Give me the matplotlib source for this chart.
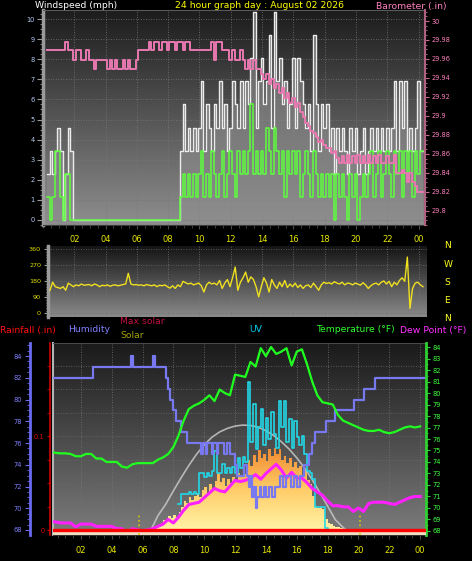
import matplotlib
matplotlib.use("Agg")
import matplotlib.pyplot as plt
import numpy as np
from matplotlib.colors import LinearSegmentedColormap
from matplotlib.ticker import MultipleLocator, FuncFormatter

# ---------------- data ----------------
hour_ticks = [2, 4, 6, 8, 10, 12, 14, 16, 18, 20, 22, 24]
hour_labels = ["02", "04", "06", "08", "10", "12", "14", "16", "18", "20", "22", "00"]

# wind + barometer: 10-minute samples, first one at 00:15
wind_start = 0.25
gust_mph = [
    2.3, 3.45, 2.3, 3.45, 4.6, 3.45, 0, 2.3, 4.6, 3.45, 0,
    0, 0, 0, 0, 0, 0, 0, 0, 0, 0,
    0, 0, 0, 0, 0, 0, 0, 0, 0, 0,
    0, 0, 0, 0, 0, 0, 0, 0, 0, 0,
    0, 0, 0, 0, 0, 0, 0, 0, 0, 0,
    3.45, 5.75, 3.45, 4.6, 3.45, 4.6, 3.45,
    4.6, 6.9, 3.45, 5.75, 4.6, 3.45,
    5.75, 4.6, 6.9, 4.6, 5.75, 3.45,
    4.6, 6.9, 5.75, 4.6, 6.9, 4.6,
    6.9, 5.75, 8.05, 10.35, 4.6, 6.9,
    8.05, 5.75, 6.9, 9.2, 4.6, 10.35,
    6.9, 8.05, 5.75, 6.9, 4.6, 5.75,
    8.05, 4.6, 8.05, 6.9, 5.75, 4.6,
    5.75, 3.45, 9.2, 5.75, 3.45, 5.75,
    4.6, 5.75, 3.45, 4.6, 2.3, 4.6,
    3.45, 4.6, 3.45, 2.3, 4.6, 3.45,
    4.6, 2.3, 3.45, 4.6, 2.3, 3.45,
    4.6, 3.45, 4.6, 3.45, 4.6, 3.45,
    4.6, 3.45, 4.6, 6.9, 3.45, 6.9,
    4.6, 6.9, 3.45, 4.6, 3.45, 4.6,
    6.9, 3.45,
]
speed_mph = [
    1.15, 0, 1.15, 3.45, 3.45, 1.15, 0, 2.3, 2.3, 0, 0,
    0, 0, 0, 0, 0, 0, 0, 0, 0, 0,
    0, 0, 0, 0, 0, 0, 0, 0, 0, 0,
    0, 0, 0, 0, 0, 0, 0, 0, 0, 0,
    0, 0, 0, 0, 0, 0, 0, 0, 0, 0,
    1.15, 2.3, 1.15, 2.3, 1.15, 2.3, 1.15,
    2.3, 3.45, 1.15, 2.3, 1.15, 3.45,
    2.3, 1.15, 2.3, 3.45, 1.15, 2.3,
    3.45, 2.3, 1.15, 3.45, 2.3, 3.45,
    2.3, 3.45, 5.75, 2.3, 3.45, 2.3,
    3.45, 2.3, 4.6, 3.45, 2.3, 4.6,
    3.45, 2.3, 3.45, 1.15, 3.45, 2.3,
    3.45, 2.3, 3.45, 1.15, 2.3, 3.45,
    2.3, 1.15, 3.45, 2.3, 1.15, 2.3,
    1.15, 2.3, 1.15, 2.3, 0, 2.3,
    1.15, 2.3, 1.15, 0, 2.3, 1.15,
    2.3, 0, 1.15, 2.3, 1.15, 2.3,
    3.45, 1.15, 2.3, 3.45, 1.15, 2.3,
    3.45, 2.3, 1.15, 3.45, 2.3, 3.45,
    1.15, 3.45, 2.3, 3.45, 1.15, 3.45,
    2.3, 3.45,
]
baro_in = [
    29.969, 29.969, 29.969, 29.969, 29.969, 29.969,
    29.969, 29.978, 29.969, 29.969, 29.959, 29.969,
    29.969, 29.959, 29.959, 29.969, 29.959, 29.959,
    29.949, 29.959, 29.959, 29.959, 29.959, 29.949,
    29.959, 29.949, 29.959, 29.949, 29.949, 29.959,
    29.949, 29.959, 29.949, 29.949, 29.959, 29.969,
    29.969, 29.969, 29.969, 29.978, 29.969, 29.978,
    29.978, 29.969, 29.978, 29.978, 29.969, 29.978,
    29.978, 29.969, 29.978, 29.978, 29.969, 29.978,
    29.978, 29.969, 29.969, 29.969, 29.969, 29.969,
    29.969, 29.969, 29.969, 29.978, 29.959, 29.978,
    29.978, 29.969, 29.969, 29.969, 29.959, 29.969,
    29.959, 29.959, 29.969, 29.959, 29.949, 29.959,
    29.949, 29.959, 29.949, 29.949, 29.944, 29.939,
    29.944, 29.934, 29.939, 29.929, 29.934, 29.924,
    29.929, 29.919, 29.924, 29.914, 29.919, 29.909,
    29.914, 29.904, 29.899, 29.893, 29.889, 29.884,
    29.882, 29.878, 29.872, 29.875, 29.869, 29.866,
    29.866, 29.861, 29.863, 29.856, 29.850, 29.858,
    29.850, 29.859, 29.850, 29.858, 29.850, 29.859,
    29.850, 29.858, 29.850, 29.859, 29.850, 29.858,
    29.850, 29.859, 29.850, 29.850, 29.858, 29.850,
    29.850, 29.859, 29.840, 29.840, 29.843, 29.840,
    29.830, 29.840, 29.830, 29.826, 29.820, 29.820,
]
baro_ticks = [29.8, 29.82, 29.84, 29.86, 29.88, 29.9, 29.92, 29.94, 29.96, 29.98, 30.0]

# wind direction: 10-minute samples, first one at 00:27
dir_start = 0.45
wind_dir = [
    130, 175, 150,
    145, 140, 150, 130, 170, 160,
    150, 160, 155, 165, 158, 160,
    162, 155, 165, 160, 150, 158,
    155, 160, 152, 158, 160, 155,
    158, 162, 165, 225, 165, 160,
    162, 158, 160, 155, 162, 158,
    155, 160, 150, 158, 155, 160,
    150, 142, 155, 140, 160, 150,
    180, 172, 165, 170, 160, 165,
    170, 155, 120, 160, 175, 165,
    170, 160, 185, 140, 170, 190,
    150, 200, 260, 130, 175, 200,
    232, 175, 205, 190, 150, 93,
    150, 200, 170, 120, 190, 160,
    140, 175, 150, 185, 145, 165,
    150, 170, 145, 160, 140, 155,
    160, 145, 170, 150, 130, 160,
    175, 168, 172, 165, 178, 170,
    165, 175, 160, 170, 168, 160,
    170, 165, 158, 172, 160, 140,
    155, 165, 170, 160, 175, 182,
    165, 180, 150, 175, 160, 185,
    200, 180, 316, 28, 140, 170,
    175, 160, 150,
]
dir_ticks = [0, 90, 180, 270, 360]
compass = ["N", "W", "S", "E", "N"]

# temperature and dew point: 20-minute samples from 00:00
temp_f = [
    74.9, 74.8, 74.75, 74.75, 74.7, 74.5,
    74.5, 74.7, 74.7, 74.3, 74.3, 74.0,
    74.0, 74.0, 73.6, 73.5, 73.8, 73.9,
    73.9, 73.9, 73.9, 74.2, 74.4, 74.7,
    75.3, 76.3, 77.6, 78.6, 78.9, 79.1,
    79.4, 79.8, 79.3, 80.3, 80.0, 79.8,
    81.6, 81.5, 81.4, 82.7, 82.3, 83.9,
    83.2, 84.0, 83.4, 83.6, 83.9, 82.4,
    83.6, 83.8, 82.5, 81.0, 79.8, 79.2,
    79.1, 79.0, 78.1, 77.6, 77.4, 77.2,
    77.0, 76.8, 76.7, 76.7, 76.8, 76.6,
    76.5, 76.6, 76.8, 77.0, 77.1, 77.0,
    77.1,
]
dew_f = [
    68.8, 68.8, 68.7, 68.7, 68.7, 68.35,
    68.6, 68.6, 68.6, 68.4, 68.4, 68.4,
    68.4, 68.2, 68.2, 67.8, 68.2, 68.1,
    68.0, 68.1, 68.2, 68.4, 68.6, 69.0,
    68.7, 69.2, 69.8, 70.3, 70.4, 70.5,
    70.9, 71.3, 71.7, 71.5, 71.4, 71.9,
    72.4, 72.3, 72.4, 72.6, 72.9, 72.5,
    73.0, 73.4, 73.8, 73.3, 72.6, 73.1,
    72.6, 72.6, 72.2, 71.7, 71.4, 71.1,
    70.6, 70.2, 70.2, 70.1, 70.1, 69.7,
    70.0, 69.7, 70.4, 70.5, 70.5, 70.5,
    70.4, 70.3, 70.5, 70.7, 70.9, 71.0,
    71.0,
]

# humidity steps (hour it changes, new value)
hum_hours = [0.2, 2.8, 5.25, 5.35, 6.7, 6.8, 7.5, 7.65, 7.8, 7.95, 8.2, 8.5, 8.9,
             9.8, 9.9, 10.1, 10.2, 10.5, 10.6, 10.8, 10.9, 11.3, 11.5, 11.7, 12.0,
             12.15, 12.6, 12.75, 12.9, 13.0, 13.1, 13.25, 13.35, 13.45, 13.6, 13.7,
             13.85, 14.0, 14.2, 14.4, 14.6, 14.9, 15.1, 15.3, 15.6, 15.8, 16.0, 16.2,
             16.5, 16.8, 17.0, 17.2, 17.9, 18.5, 19.7, 20.35, 21.1]
hum_pct = [82, 83, 84, 83, 84, 83, 82, 81, 80, 79, 78, 77, 76,
           75, 76, 75, 76, 75, 76, 75, 76, 75, 76, 75, 74,
           73, 74, 73, 72, 73, 71, 72, 70, 71, 72, 71,
           72, 71, 72, 71, 72, 73, 72, 73, 72, 73, 72, 73,
           74, 75, 76, 77, 78, 79, 80, 81, 82]

# solar radiation: 10-minute samples from 06:30 (W/m2)
solar_start = 6.5
solar_wm2 = [
    5, 15, 30,
    45, 70, 95, 110, 130, 115,
    140, 125, 165, 210, 260, 245,
    290, 270, 300, 330, 290, 350,
    380, 330, 400, 360, 430, 495,
    420, 450, 390, 445, 410, 465,
    440, 500, 470, 520, 490, 610,
    560, 650, 590, 690, 620, 660,
    600, 700, 640, 720, 660, 700,
    610, 640, 580, 620, 550, 590,
    540, 560, 480, 520, 440, 400,
    300, 220, 200, 210, 190, 110,
    75, 60, 45, 40, 38, 30,
    25, 15, 0,
]
max_solar_hours = [6.5, 7.0, 7.5, 8.0, 8.5, 9.0, 9.5, 10.0, 10.5, 11.0, 11.5, 12.0, 12.5, 13.0,
                   13.5, 14.0, 14.5, 15.0, 15.5, 16.0, 16.5, 17.0, 17.5, 18.0, 18.5, 19.0, 19.3]
max_solar_wm2 = [0, 135, 230, 345, 455, 560, 655, 735, 800, 845, 875, 895, 903, 900,
                 885, 855, 815, 762, 700, 625, 540, 440, 330, 215, 100, 35, 0]

# UV index: 10-minute samples from 08:20
uv_start = 8.33
uv_index = [
    1.8, 2.5, 2.5, 2.5, 2.6, 2.5,
    2.6, 2.5, 3.9, 3.9, 3.6, 3.9,
    3.7, 4.0, 5.4, 3.9, 3.9, 4.5,
    3.9, 4.2, 3.9, 4.3, 3.9, 4.9,
    4.2, 5.0, 4.6, 10.0, 6.0, 8.5,
    5.5, 7.0, 8.2, 5.8, 7.6, 6.2,
    8.0, 6.5, 5.6, 8.7, 7.0, 8.7,
    6.0, 7.5, 5.6, 7.4, 6.3, 5.8,
    6.4, 5.2, 4.0, 3.9, 3.5, 1.6,
    1.6, 1.6, 1.6, 0.2, 0,
]

rain_hours = [0.2, 24.3]
rain_in = [0.0, 0.0]
sun_marks = [5.75, 20.1]

# ---------------- figure ----------------
W, H = 472, 561
fig = plt.figure(figsize=(W / 100, H / 100), dpi=100, facecolor="black")
DOT = (0, (1, 2))


def add_axes_px(x0, y0, x1, y1):
    return fig.add_axes([x0 / W, 1 - y1 / H, (x1 - x0) / W, (y1 - y0) / H], facecolor="black")


def add_gradient(ax, top, bottom):
    cmap = LinearSegmentedColormap.from_list("bg", [bottom, top])
    ax.imshow(np.linspace(0, 1, 256)[:, None], cmap=cmap, origin="lower",
              extent=(0, 1, 0, 1), transform=ax.transAxes, aspect="auto", zorder=0)


def sample_hours(start, values, step=1 / 6):
    return start + np.arange(len(values)) * step


def stepped(hours, values, end):
    return np.append(hours, end), np.append(values, values[-1])


def hide_spines(ax, keep=()):
    for name, sp in ax.spines.items():
        sp.set_visible(name in keep)


def header(x, y, s, color, size=6.7):
    fig.text(x / W, 1 - y / H, s, color=color, fontsize=size, ha="left", va="center")


def hour_axis(ax, labels=True, pad=4):
    ax.set_xticks(hour_ticks, hour_labels if labels else [])
    ax.xaxis.set_minor_locator(MultipleLocator(0.5))
    ax.tick_params(axis="x", which="both", colors="#4a4a4a", labelcolor="#e8e800",
                   labelsize=6, pad=pad, labelbottom=labels)
    ax.tick_params(axis="x", which="major", length=3)
    ax.tick_params(axis="x", which="minor", length=2)
    ax.grid(axis="x", color="#777777", ls=DOT, lw=0.6)
    ax.set_axisbelow(True)


# ---- panel 1: wind speed / barometer ----
ax1 = add_axes_px(43, 10, 425, 225)
add_gradient(ax1, "#1c1c1c", "#8e8e8e")
wh = sample_hours(wind_start, gust_mph)
gx, gy = stepped(wh, gust_mph, 24.3)
sx, sy = stepped(wh, speed_mph, 24.3)
ax1.fill_between(gx, gy, step="post", color="#8e8e8e", alpha=0.6, lw=0, zorder=2)
ax1.step(gx, gy, where="post", color="#ececec", lw=1.0, zorder=3)
ax1.step(sx, sy, where="post", color="#5cff3c", lw=1.1, zorder=4)
ax1.set_xlim(0, 24.41)
ax1.set_ylim(-0.25, 10.45)
hour_axis(ax1, pad=4)
ax1.set_yticks(range(0, 11))
ax1.yaxis.set_minor_locator(MultipleLocator(0.25))
ax1.tick_params(axis="y", which="both", colors="#9a9a9a", labelcolor="#b8ccf4",
                labelsize=4.8, pad=2)
ax1.tick_params(axis="y", which="major", length=4)
ax1.tick_params(axis="y", which="minor", length=2)
ax1.grid(axis="y", color="#777777", ls=DOT, lw=0.6)
hide_spines(ax1, ("left", "top", "bottom"))
ax1.spines["left"].set_color("#9a9a9a")
ax1.spines["left"].set_linewidth(2.5)
ax1.spines["top"].set_color("#5a5a5a")
ax1.spines["bottom"].set_color("#3a3a3a")

ax1b = ax1.twinx()
bx, by = stepped(wh, baro_in, 24.3)
ax1b.step(bx, by, where="post", color="#e878b0", lw=1.4)
ax1b.set_ylim(29.785, 30.0116)
ax1b.set_yticks(baro_ticks)
ax1b.yaxis.set_major_formatter(FuncFormatter(lambda v, p: f"{v:.2f}".rstrip("0").rstrip(".")))
ax1b.yaxis.set_minor_locator(MultipleLocator(0.005))
ax1b.tick_params(axis="y", which="both", colors="#c06890", labelcolor="#ff80c0",
                 labelsize=4.8, pad=2)
ax1b.tick_params(axis="y", which="major", length=3)
ax1b.tick_params(axis="y", which="minor", length=1.5)
hide_spines(ax1b, ("right",))
ax1b.spines["right"].set_color("#b06080")
ax1b.spines["right"].set_linewidth(1.5)

header(35, 6, "Windspeed (mph)", "white")
header(175, 6, "24 hour graph day : August 02 2026", "#ffff00")
header(376, 6, "Barometer (.in)", "#ff80c0")

# ---- panel 2: wind direction ----
ax2 = add_axes_px(48, 246, 427, 317)
add_gradient(ax2, "#141414", "#8a8a8a")
ax2.plot(sample_hours(dir_start, wind_dir), wind_dir, color="#f0e020", lw=1.0, zorder=3)
ax2.set_xlim(0.32, 24.54)
ax2.set_ylim(-20, 378)
hour_axis(ax2, labels=False)
ax2.tick_params(axis="x", which="both", length=0)
ax2.set_yticks(dir_ticks)
ax2.yaxis.set_minor_locator(MultipleLocator(15))
ax2.tick_params(axis="y", which="both", colors="#9a9a9a", labelcolor="#e0e000",
                labelsize=4.6, pad=2)
ax2.tick_params(axis="y", which="major", length=3)
ax2.tick_params(axis="y", which="minor", length=1.5)
ax2.grid(axis="y", color="#6a6a6a", ls=DOT, lw=0.6)
hide_spines(ax2, ("left",))
ax2.spines["left"].set_color("#9a9a9a")
ax2.spines["left"].set_linewidth(2.5)
for frac, lab in zip(np.linspace(1.0, -0.02, len(compass)), compass):
    ax2.text(1.045, frac, lab, transform=ax2.transAxes, color="#ffff20",
             fontsize=6.6, ha="left", va="center")

# ---- panel 3: temperature / humidity / solar / UV / rain ----
ax3 = add_axes_px(53, 343, 426, 535)
add_gradient(ax3, "#1a1a1a", "#7c7c7c")
ax3.set_ylim(-0.0053, 0.199)
ax3.set_yticks(np.arange(0, 0.2, 0.025))
ax3.tick_params(axis="y", length=0, labelleft=False)
ax3.grid(axis="y", color="#6a6a6a", ls=DOT, lw=0.6)
hour_axis(ax3, pad=5)
hide_spines(ax3, ("left", "top", "bottom"))
ax3.spines["left"].set_color("#b4b4b4")
ax3.spines["left"].set_linewidth(1.5)
ax3.spines["top"].set_color("#4a4a4a")
ax3.spines["bottom"].set_color("#303030")

# solar + max solar
ax_s = ax3.twinx()
solar_h = sample_hours(solar_start, solar_wm2)
shx, shy = stepped(solar_h, solar_wm2, solar_h[-1] + 1 / 6)
poly = ax_s.fill_between(shx, shy, step="post", color="none", lw=0)
solar_cmap = LinearSegmentedColormap.from_list("solar", ["#fff4a8", "#ffcc68", "#f08a30"])
im = ax_s.imshow(np.linspace(0, 1, 256)[:, None], cmap=solar_cmap, origin="lower",
                 extent=(solar_start - 0.1, 19.6, 0, 700), aspect="auto", zorder=1)
im.set_clip_path(poly.get_paths()[0], transform=ax_s.transData)
ax_s.plot(max_solar_hours, max_solar_wm2, color="#c8c8c8", lw=1.2, alpha=0.85, zorder=2)
ax_s.set_ylim(-30, 1600)
ax_s.set_yticks([])
hide_spines(ax_s)

# UV
ax_uv = ax3.twinx()
uh = sample_hours(uv_start, uv_index)
ux, uy = stepped(uh, uv_index, uh[-1] + 1 / 6)
ax_uv.step(ux, uy, where="post", color="#22d8e8", lw=1.2)
ax_uv.set_ylim(-0.27, 12.62)
ax_uv.set_yticks([])
hide_spines(ax_uv)

# dew point (temperature scale)
ax_d = ax3.twinx()
ax_d.plot(sample_hours(0, dew_f, 1 / 3), dew_f, color="#ff20ff", lw=2.2)
ax_d.set_ylim(67.65, 84.35)
ax_d.set_yticks([])
hide_spines(ax_d)

# humidity
ax_h = ax3.twinx()
hx, hy = stepped(np.array(hum_hours), hum_pct, 24.3)
ax_h.step(hx, hy, where="post", color="#7878f0", lw=1.6)
ax_h.set_ylim(67.54, 85.2)
ax_h.yaxis.tick_left()
ax_h.set_yticks(range(68, 85, 2))
ax_h.yaxis.set_minor_locator(MultipleLocator(0.5))
ax_h.tick_params(axis="y", which="both", colors="#6a6af0", labelcolor="#8080ff",
                 labelsize=4.8, pad=2)
ax_h.tick_params(axis="y", which="major", length=3.5)
ax_h.tick_params(axis="y", which="minor", length=2)
hide_spines(ax_h, ("left",))
ax_h.spines["left"].set_position(("outward", 16.5))
ax_h.spines["left"].set_color("#6a6af0")
ax_h.spines["left"].set_linewidth(2)

# temperature
ax_t = ax3.twinx()
ax_t.plot(sample_hours(0, temp_f, 1 / 3), temp_f, color="#20ff20", lw=1.6)
ax_t.set_ylim(67.65, 84.35)
ax_t.set_yticks(range(68, 85))
ax_t.yaxis.set_minor_locator(MultipleLocator(0.5))
ax_t.tick_params(axis="y", which="both", colors="#30d030", labelcolor="#40ff40",
                 labelsize=4.8, pad=2)
ax_t.tick_params(axis="y", which="major", length=3)
ax_t.tick_params(axis="y", which="minor", length=1.5)
hide_spines(ax_t, ("right",))
ax_t.spines["right"].set_color("#30d030")
ax_t.spines["right"].set_linewidth(2)

# rainfall
ax_r = ax3.twinx()
ax_r.axhspan(-0.0048, -0.0016, color="#f0dcc0", lw=0)
ax_r.vlines(sun_marks, -0.005, 0.017, colors="#d8c400", linestyles=":", lw=1.2)
ax_r.plot(rain_hours, rain_in, color="#ff0000", lw=2.4)
ax_r.set_ylim(-0.0053, 0.199)
ax_r.yaxis.tick_left()
ax_r.set_yticks([0, 0.1], ["0", "0.1"])
ax_r.yaxis.set_minor_locator(MultipleLocator(0.025))
ax_r.tick_params(axis="y", which="both", colors="#d00000", labelcolor="#e00000",
                 labelsize=4.8, pad=2)
ax_r.tick_params(axis="y", which="major", length=2)
ax_r.tick_params(axis="y", which="minor", length=2)
hide_spines(ax_r, ("left",))
ax_r.spines["left"].set_position(("outward", 2.2))
ax_r.spines["left"].set_color("#d00000")
ax_r.spines["left"].set_linewidth(1.2)

ax3.set_xlim(0.195, 24.38)

header(0, 330, "Rainfall (.in)", "#ff1010")
header(68, 330, "Humidity", "#8080ff")
header(120, 322, "Max solar", "#c01040")
header(120, 335, "Solar", "#a0a000")
header(249, 330, "UV", "#00c8e8")
header(316, 330, "Temperature (°F)", "#30ff30")
header(400, 330, "Dew Point (°F)", "#ff30ff")

fig.savefig("out.png", dpi=100, facecolor="black")
plt.close(fig)
